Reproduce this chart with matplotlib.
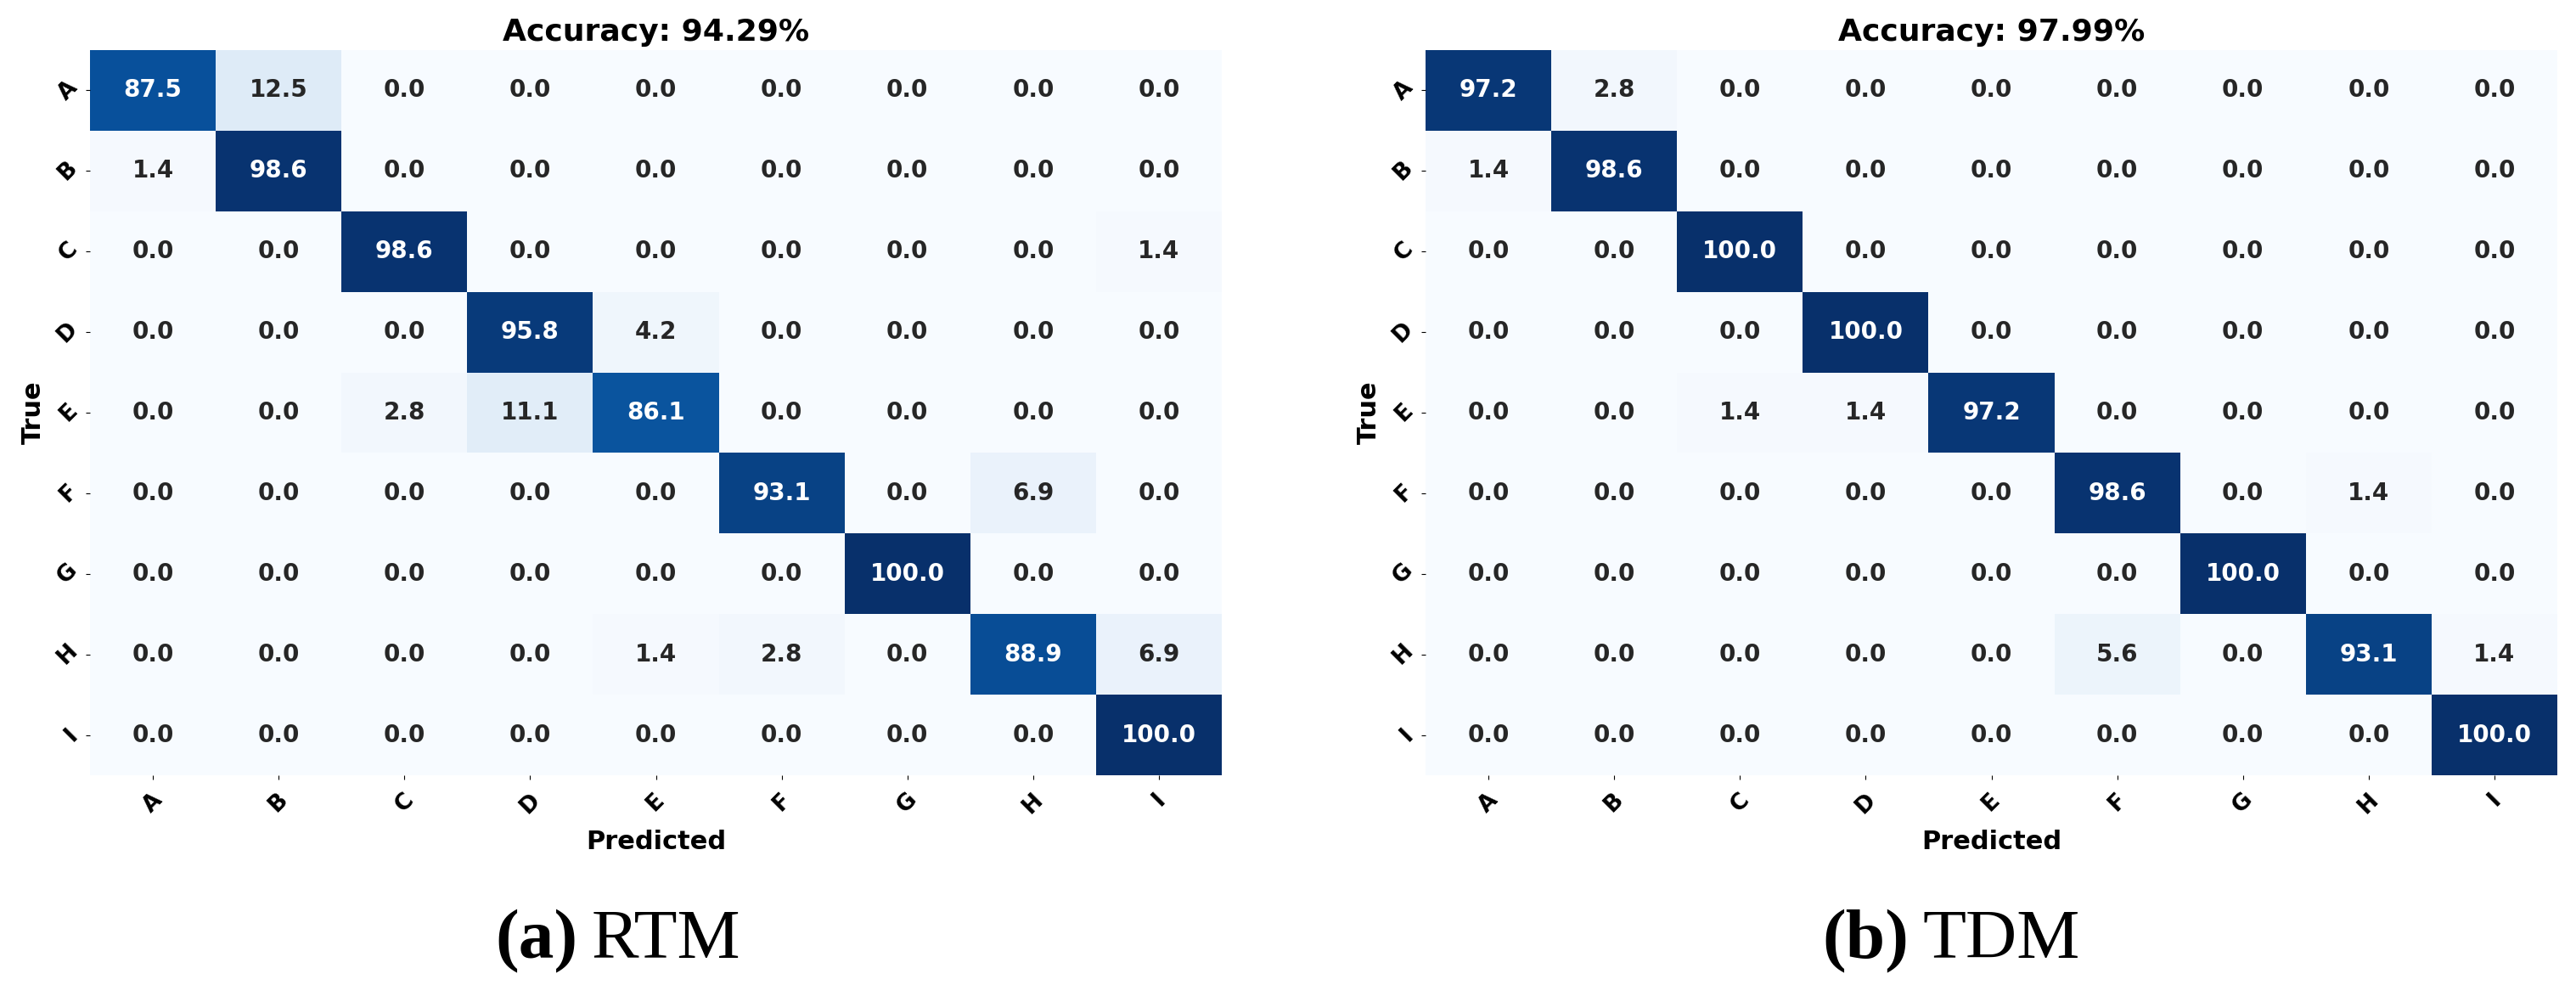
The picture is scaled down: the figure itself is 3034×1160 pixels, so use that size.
import numpy as np
import matplotlib
matplotlib.use('Agg')
import matplotlib.pyplot as plt
import seaborn as sns

labels = ['A', 'B', 'C', 'D', 'E', 'F', 'G', 'H', 'I']

rtm = np.array([
    [87.5, 12.5, 0.0, 0.0, 0.0, 0.0, 0.0, 0.0, 0.0],
    [1.4, 98.6, 0.0, 0.0, 0.0, 0.0, 0.0, 0.0, 0.0],
    [0.0, 0.0, 98.6, 0.0, 0.0, 0.0, 0.0, 0.0, 1.4],
    [0.0, 0.0, 0.0, 95.8, 4.2, 0.0, 0.0, 0.0, 0.0],
    [0.0, 0.0, 2.8, 11.1, 86.1, 0.0, 0.0, 0.0, 0.0],
    [0.0, 0.0, 0.0, 0.0, 0.0, 93.1, 0.0, 6.9, 0.0],
    [0.0, 0.0, 0.0, 0.0, 0.0, 0.0, 100.0, 0.0, 0.0],
    [0.0, 0.0, 0.0, 0.0, 1.4, 2.8, 0.0, 88.9, 6.9],
    [0.0, 0.0, 0.0, 0.0, 0.0, 0.0, 0.0, 0.0, 100.0],
])

tdm = np.array([
    [97.2, 2.8, 0.0, 0.0, 0.0, 0.0, 0.0, 0.0, 0.0],
    [1.4, 98.6, 0.0, 0.0, 0.0, 0.0, 0.0, 0.0, 0.0],
    [0.0, 0.0, 100.0, 0.0, 0.0, 0.0, 0.0, 0.0, 0.0],
    [0.0, 0.0, 0.0, 100.0, 0.0, 0.0, 0.0, 0.0, 0.0],
    [0.0, 0.0, 1.4, 1.4, 97.2, 0.0, 0.0, 0.0, 0.0],
    [0.0, 0.0, 0.0, 0.0, 0.0, 98.6, 0.0, 1.4, 0.0],
    [0.0, 0.0, 0.0, 0.0, 0.0, 0.0, 100.0, 0.0, 0.0],
    [0.0, 0.0, 0.0, 0.0, 0.0, 5.6, 0.0, 93.1, 1.4],
    [0.0, 0.0, 0.0, 0.0, 0.0, 0.0, 0.0, 0.0, 100.0],
])

titles = ['Accuracy: 94.29%', 'Accuracy: 97.99%']
captions = [('(a)', 'RTM'), ('(b)', 'TDM')]

W, H = 3034, 1160
fig = plt.figure(figsize=(W / 100, H / 100), dpi=100)

# axes boxes in pixels: left, bottom(from top), width, height
boxes = [(106, 913, 1333, 854), (1679, 913, 1333, 854)]
cap_x = [583, 2146]

for k, (cm, box) in enumerate(zip([rtm, tdm], boxes)):
    l, b, w, h = box
    ax = fig.add_axes([l / W, (H - b) / H, w / W, h / H])
    sns.heatmap(cm, annot=True, fmt='.1f', cmap='Blues', cbar=False,
                vmin=0, vmax=100, xticklabels=labels, yticklabels=labels,
                annot_kws={'size': 20, 'weight': 'bold'}, ax=ax)
    ax.set_title(titles[k], fontsize=26, fontweight='bold', pad=8)
    ax.set_xlabel('Predicted', fontsize=22, fontweight='bold', labelpad=10)
    ax.set_ylabel('True', fontsize=22, fontweight='bold', labelpad=6)
    plt.setp(ax.get_xticklabels(), rotation=45, fontsize=19, fontweight='bold')
    plt.setp(ax.get_yticklabels(), rotation=45, fontsize=19, fontweight='bold')
    ax.tick_params(axis='x', pad=8)

    t1 = fig.text(cap_x[k] / W, 1 - 1128 / H, captions[k][0], fontsize=60,
                  fontweight='bold', family='Liberation Serif',
                  ha='left', va='baseline')
    plt.annotate(captions[k][1], xy=(1, 0), xycoords=t1, xytext=(12, 0),
                 textcoords='offset points', fontsize=60,
                 family='Liberation Serif', ha='left', va='bottom')

plt.savefig('out.png', dpi=100)
